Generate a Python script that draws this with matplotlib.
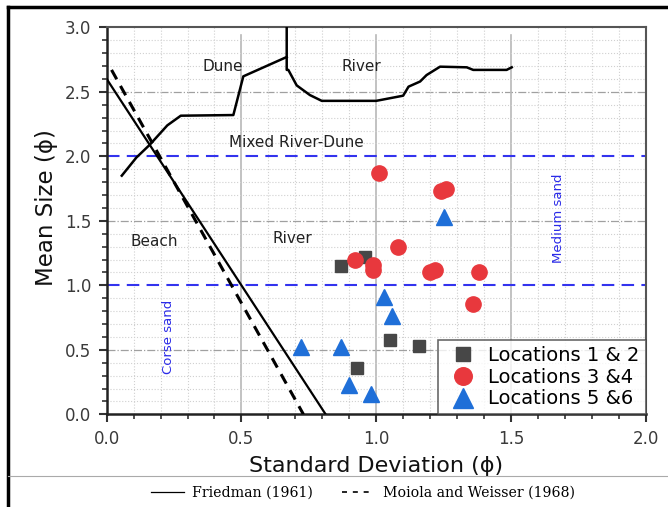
import matplotlib
matplotlib.use('Agg')
import matplotlib.pyplot as plt
from matplotlib.lines import Line2D
from matplotlib.ticker import MultipleLocator

plt.rcParams['font.family'] = ['DejaVu Sans']

# sample groups (standard deviation, mean size)
loc12_sd = [0.87, 0.96, 1.05, 1.16, 0.93]
loc12_mz = [1.15, 1.22, 0.58, 0.53, 0.36]
loc34_sd = [1.01, 1.24, 1.26, 1.08, 0.92, 0.99, 0.99, 1.20, 1.22, 1.38, 1.36]
loc34_mz = [1.87, 1.73, 1.75, 1.30, 1.20, 1.16, 1.12, 1.10, 1.12, 1.10, 0.855]
loc56_sd = [1.25, 1.03, 1.06, 0.72, 0.87, 0.90, 0.98]
loc56_mz = [1.53, 0.91, 0.76, 0.52, 0.52, 0.23, 0.155]

# discriminant lines
friedman_x = [0.0, 0.8125]
friedman_y = [2.6, 0.0]
moiola_x = [0.018, 0.73]
moiola_y = [2.67, 0.0]

# dune / river boundary curve
dune_x = [0.056, 0.11, 0.16, 0.225, 0.275, 0.47, 0.507, 0.668]
dune_y = [1.85, 1.99, 2.09, 2.24, 2.315, 2.32, 2.62, 2.77]
river_x = [0.668, 0.668, 0.674, 0.705, 0.754, 0.798, 1.0, 1.10, 1.12, 1.163,
           1.187, 1.237, 1.336, 1.36, 1.484, 1.503]
river_y = [3.0, 2.67, 2.67, 2.55, 2.475, 2.43, 2.43, 2.47, 2.54, 2.58,
           2.63, 2.695, 2.69, 2.67, 2.67, 2.69]

fig = plt.figure(figsize=(6.68, 5.07), dpi=100)
ax = fig.add_axes([0.1597, 0.1828, 0.8069, 0.7633])
ax.set_xlim(0, 2.0)
ax.set_ylim(0, 3.0)

# grid
ax.xaxis.set_major_locator(MultipleLocator(0.5))
ax.xaxis.set_minor_locator(MultipleLocator(0.1))
ax.yaxis.set_major_locator(MultipleLocator(0.5))
ax.yaxis.set_minor_locator(MultipleLocator(0.1))
ax.grid(which='minor', color='#d0d0d0', linestyle=':', linewidth=0.8)
for yv in [0.5, 1.5, 2.5]:
    ax.axhline(yv, color='#a0a0a0', linestyle='-.', linewidth=0.9, zorder=1)
for xv in [0.5, 1.0, 1.5]:
    ax.plot([xv, xv], [0, 2.94], color='#b8b8b8', linewidth=1.2, zorder=1)

# size class limits
for yv in [1.0, 2.0]:
    ax.axhline(yv, color='#3333ee', linestyle=(0, (6, 3.5)), linewidth=1.5, zorder=2)

ax.plot(friedman_x, friedman_y, color='black', linewidth=1.6, zorder=3)
ax.plot(moiola_x, moiola_y, color='black', linewidth=2.2, linestyle=(0, (3.5, 2.5)), zorder=3)
ax.plot(dune_x, dune_y, color='black', linewidth=1.8, zorder=3)
ax.plot(river_x, river_y, color='black', linewidth=1.8, zorder=3)

ax.plot(loc12_sd, loc12_mz, 's', color='#474747', markersize=9, label='Locations 1 & 2', zorder=4)
ax.plot(loc34_sd, loc34_mz, 'o', color='#e8383d', markersize=11, label='Locations 3 &4', zorder=4)
ax.plot(loc56_sd, loc56_mz, '^', color='#1f6fd8', markersize=12, label='Locations 5 &6', zorder=4)

# region labels
lab = dict(fontsize=11, color='#222222', ha='center', va='center')
ax.text(0.43, 2.70, 'Dune', **lab)
ax.text(0.945, 2.70, 'River', **lab)
ax.text(0.705, 2.11, 'Mixed River-Dune', **lab)
ax.text(0.175, 1.34, 'Beach', **lab)
ax.text(0.69, 1.36, 'River', **lab)
ax.text(1.675, 1.52, 'Medium sand', fontsize=9.5, color='#2a2ae8', rotation=90, ha='center', va='center')
ax.text(0.228, 0.60, 'Corse sand', fontsize=9.5, color='#2a2ae8', rotation=90, ha='center', va='center')

# axes styling
for s in ['left', 'bottom']:
    ax.spines[s].set_linewidth(1.8)
    ax.spines[s].set_color('#222222')
for s in ['top', 'right']:
    ax.spines[s].set_linewidth(1.5)
    ax.spines[s].set_color('#555555')
ax.tick_params(which='major', direction='out', length=6, width=1.5, colors='#333333',
               labelsize=12, labelcolor='#3a3a3a', pad=5)
ax.tick_params(which='minor', direction='out', length=3.5, width=1.2, colors='#333333')
ax.set_xticks([0, 0.5, 1.0, 1.5, 2.0])
ax.set_xticklabels(['0.0', '0.5', '1.0', '1.5', '2.0'])
ax.set_yticks([0, 0.5, 1.0, 1.5, 2.0, 2.5, 3.0])
ax.set_yticklabels(['0.0', '0.5', '1.0', '1.5', '2.0', '2.5', '3.0'])
ax.set_xlabel('Standard Deviation (ϕ)', fontsize=16, color='#111111', labelpad=6)
ax.set_ylabel('Mean Size (ϕ)', fontsize=16.5, color='#111111', labelpad=5)
ax.yaxis.label.set_y(0.533)

leg = ax.legend(loc='lower right', fontsize=14, frameon=True, fancybox=False,
                borderpad=0.3, labelspacing=0.15, handletextpad=0.3, borderaxespad=0,
                handlelength=2.0, markerscale=1.15)
leg.get_frame().set_edgecolor('#444444')
leg.get_frame().set_linewidth(1.2)

# outer frame and source-line key
fig.add_artist(Line2D([8 / 668, 1.0], [1 - 7 / 507, 1 - 7 / 507], color='black', linewidth=2.5))
fig.add_artist(Line2D([8 / 668, 8 / 668], [0, 1 - 7 / 507], color='black', linewidth=2.5))
fig.add_artist(Line2D([8 / 668, 1.0], [1 - 476 / 507, 1 - 476 / 507], color='#aaaaaa', linewidth=0.8))
keys = [Line2D([], [], color='black', linewidth=0.9),
        Line2D([], [], color='black', linewidth=1.2, linestyle=(0, (3, 3.5)))]
fig.legend(keys, ['Friedman (1961)', 'Moiola and Weisser (1968)'], loc='center',
           bbox_to_anchor=(363 / 668, 1 - 493 / 507), ncol=2, frameon=False,
           prop={'family': 'DejaVu Serif', 'size': 10.2}, handlelength=2.3,
           columnspacing=2.0, handletextpad=0.6)

fig.savefig('out.png', dpi=100)
